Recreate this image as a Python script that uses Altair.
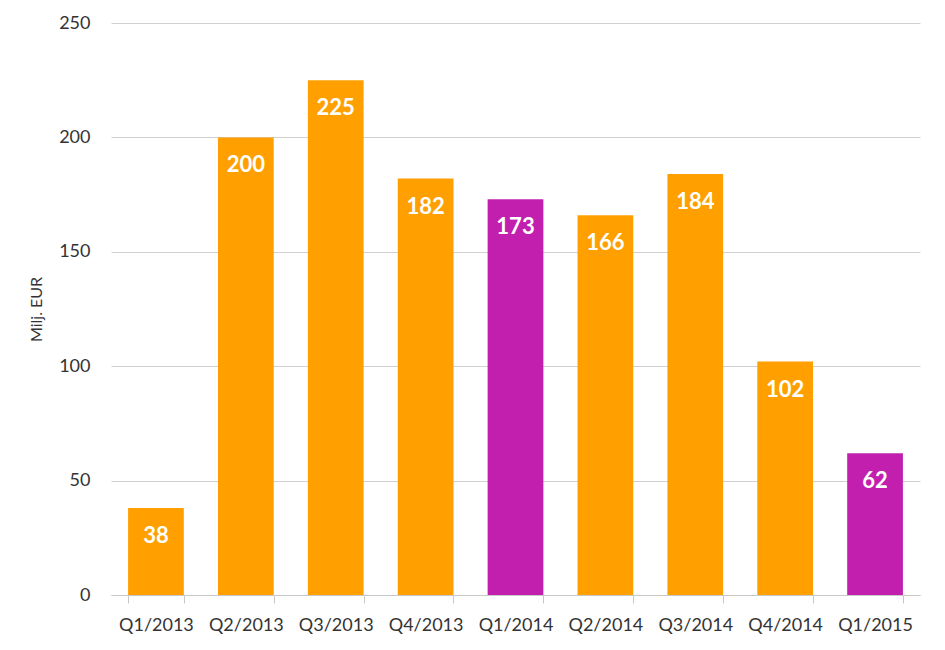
import altair as alt
import pandas as pd

quarters = ["Q1/2013", "Q2/2013", "Q3/2013", "Q4/2013", "Q1/2014",
            "Q2/2014", "Q3/2014", "Q4/2014", "Q1/2015"]
values = [38, 200, 225, 182, 173, 166, 184, 102, 62]
groups = ["other", "other", "other", "other", "q1",
          "other", "other", "other", "q1"]

df = pd.DataFrame({"q": quarters, "v": values, "g": groups})

FONT = "Lato"

x = alt.X("q:N", sort=quarters, title=None,
          scale=alt.Scale(paddingInner=0.38, paddingOuter=0.19),
          axis=alt.Axis(labelAngle=0, labelFontSize=18, labelColor="#333333",
                        labelFont=FONT, labelPadding=13, tickBand="extent",
                        tickSize=8, tickColor="#c8c8c8", domainColor="#c8c8c8",
                        grid=False))
y = alt.Y("v:Q", title="Milj. EUR",
          scale=alt.Scale(domain=[0, 250], nice=False),
          axis=alt.Axis(values=[0, 50, 100, 150, 200, 250], labelFontSize=18,
                        labelColor="#333333", labelFont=FONT, labelPadding=21,
                        ticks=False, domain=False, gridColor="#d0d0d0",
                        titleFont=FONT, titleFontSize=16, titleFontWeight="normal",
                        titleColor="#333333", titlePadding=14))

bars = alt.Chart(df).mark_bar().encode(
    x=x, y=y,
    color=alt.Color("g:N", scale=alt.Scale(domain=["other", "q1"],
                                           range=["#FFA000", "#C21FAF"]),
                    legend=None),
)

labels = alt.Chart(df).mark_text(
    baseline="middle", dy=28, color="white", font=FONT,
    fontSize=22, fontWeight="bold"
).encode(x=alt.X("q:N", sort=quarters), y="v:Q", text="v:Q")

chart = (bars + labels).properties(
    width=809, height=572,
    autosize=alt.AutoSizeParams(type="none"),
    padding={"left": 103, "top": 15, "right": 17, "bottom": 47},
).configure_view(stroke=None)

chart.save("out.html", embed_options={"renderer": "svg", "actions": False})
